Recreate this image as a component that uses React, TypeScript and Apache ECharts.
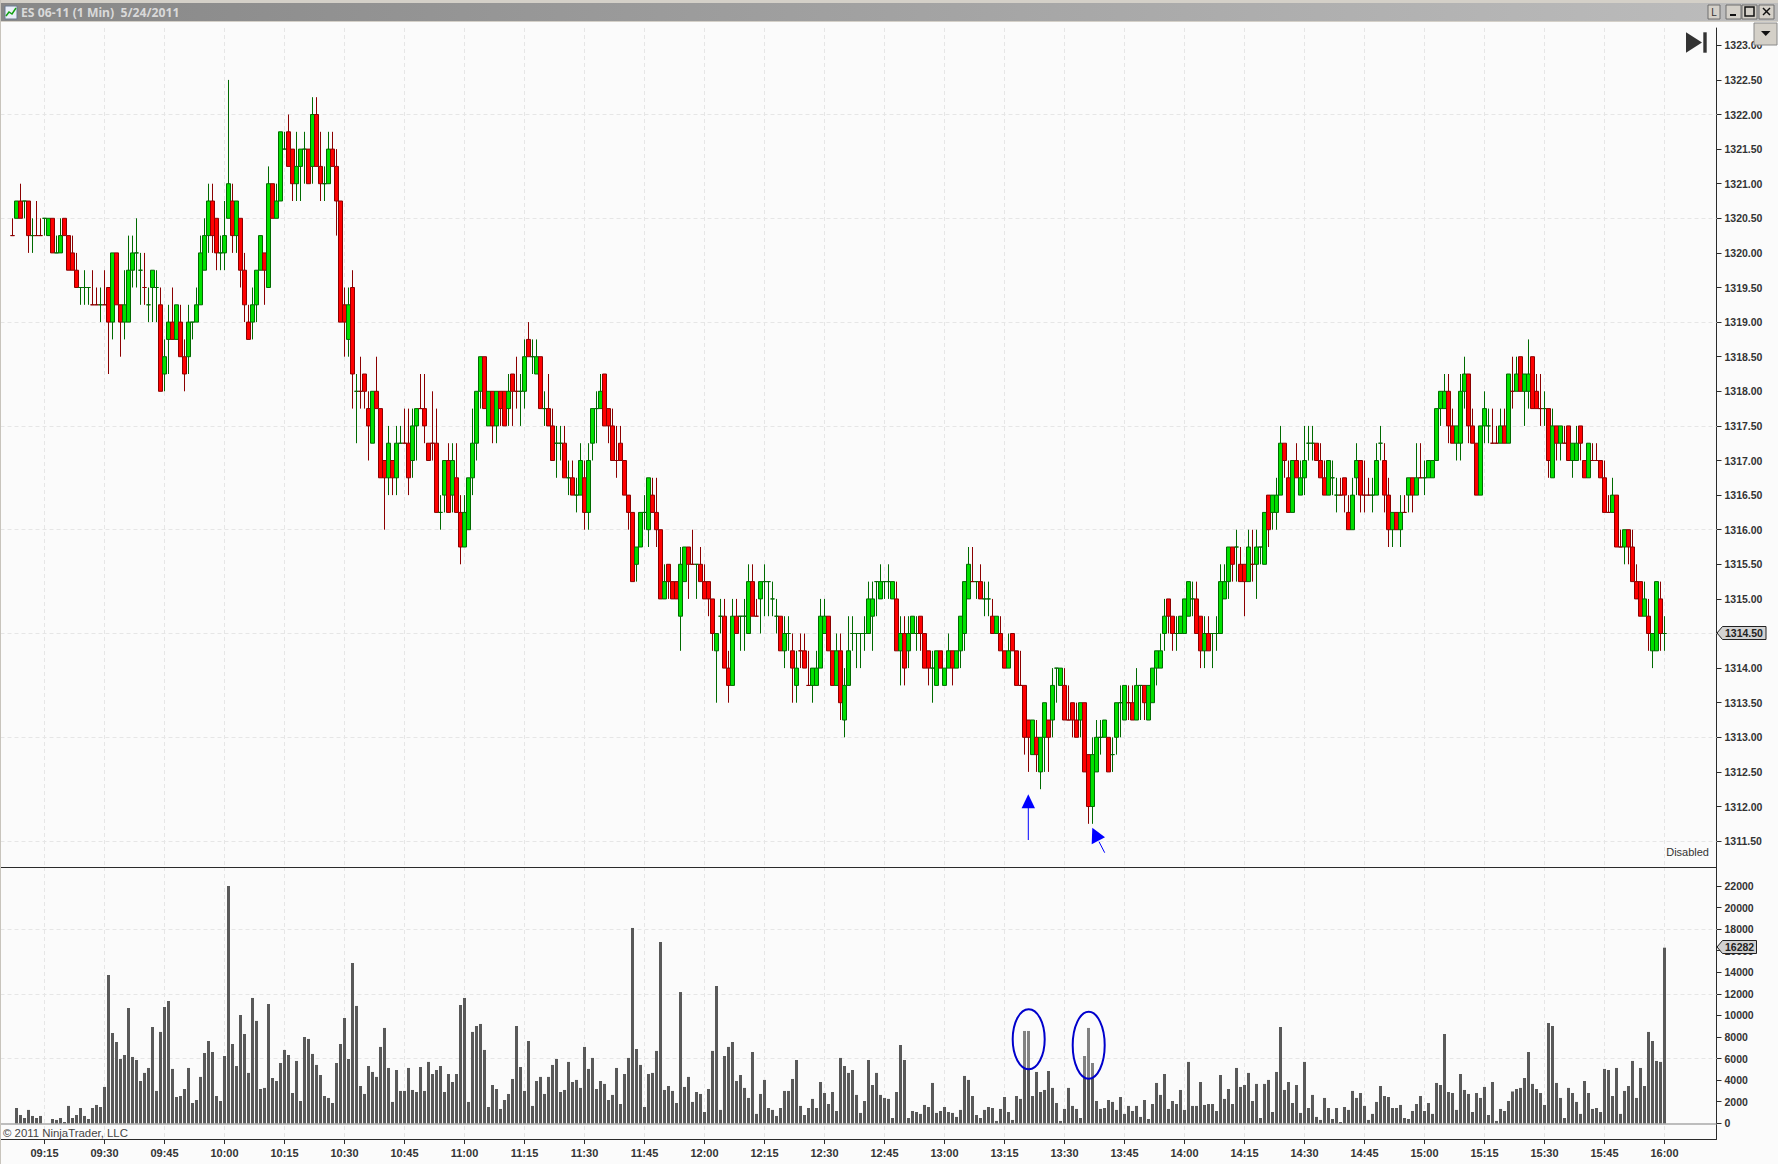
import React, { useEffect, useRef } from "react";
import * as echarts from "echarts";

const priceBase = 1300;
// [open, close, low, high] relative to priceBase, one row per minute starting 09:07
const candles = [
[20.25,20.25,20.25,20.5],[20.5,20.75,20.5,20.75],[20.75,20.5,20.5,21],[20.75,20.75,20.5,20.75],[20.75,20.25,20,20.75],
[20.25,20.25,20,20.5],[20.25,20.25,20.25,20.75],[20.25,20.25,20.25,20.5],[20.5,20.5,20.25,20.5],[20.25,20.5,20.25,20.5],
[20.5,20,20,20.5],[20,20,20,20.25],[20,20.25,20,20.5],[20.5,20.25,20.25,20.5],[20.25,19.75,19.75,20.25],
[20,19.75,19.75,20.25],[19.75,19.5,19.5,20],[19.5,19.5,19.25,19.5],[19.5,19.5,19.25,19.75],[19.5,19.5,19.25,19.5],
[19.25,19.25,19.25,19.75],[19.25,19.25,19.25,19.5],[19.25,19.25,19,19.5],[19.25,19.25,19.25,19.75],[19.5,19,18.25,19.5],
[19,20,18.75,20],[20,19.25,19.25,20],[19.25,19,18.5,19.25],[19,19.25,18.75,19.75],[19,19.75,19,20.25],
[19.75,20,19.5,20.25],[20,20,19.5,20.5],[19.75,19.75,19.25,20],[19.5,19.5,19.25,20],[19.25,19.25,19,19.5],
[19.5,19.75,19,19.75],[19.5,19.5,19,19.75],[19.25,18,18,19.5],[18.25,18.5,18,18.75],[18.75,19,18.25,19.25],
[19,18.75,18.75,19.5],[18.75,19.25,18.75,19.25],[19,18.5,18.5,19.25],[18.5,18.25,18,18.75],[18.5,19,18.25,19.25],
[19,19,18.75,19],[19,19.25,19,19.5],[19.25,20,19.25,20.25],[19.75,20.25,19.75,20.5],[20.25,20.75,20,21],
[20.75,20.25,20,21],[20.5,20,19.75,20.5],[20,20,19.75,20.25],[20,20.25,19.75,20.75],[20.5,21,20.5,22.5],
[20.75,20.25,20,21],[20.25,20.75,20,20.75],[20.5,19.75,19.5,20.5],[19.75,19.25,19,20],[19,18.75,18.75,19.25],
[19,19.25,18.75,19.5],[19.25,19.75,19,19.75],[19.75,20.25,19.75,20.25],[20,19.75,19.25,20],[19.5,21,19.5,21.25],
[21,20.5,20.5,21],[20.5,20.75,20.5,21],[20.75,21.75,20.75,21.75],[21.5,21.5,21.5,21.75],[21.75,21.25,21.25,22],
[21.5,21,20.75,21.5],[21,21.25,20.75,21.75],[21.25,21.5,20.75,21.5],[21.5,21.5,21,21.75],[21.5,21,21,21.5],
[21.25,22,21,22.25],[22,21.25,21.25,22.25],[21.25,21,20.75,21.75],[21,21,20.75,21.25],[21,21.5,21,21.75],
[21.5,21.25,21.25,21.75],[21.25,20.75,20.25,21.5],[20.75,19,19,20.75],[19.25,19,18.5,19.5],[18.75,19.25,18.5,19.5],
[19.5,18.25,17.75,19.75],[18,18,17.25,18.25],[18,18,17.75,18.5],[18.25,18,17.75,18.25],[17.75,17.5,17,18],
[17.25,18,17.25,18],[18,17.75,17.75,18.5],[17.75,16.75,16.75,17.75],[17,16.75,16,17],[16.75,17.25,16.5,17.5],
[17,16.75,16.5,17],[16.75,17.25,16.5,17.5],[17.25,17.25,17.25,17.5],[17.25,17.25,17.25,17.75],[17.25,16.75,16.5,17.75],
[17,17.5,16.75,17.75],[17.5,17.75,17,17.75],[17.75,17.75,17.75,18.25],[17.75,17.5,17.25,18.25],[17.25,17,17,17.25],
[17.25,17.25,17,18],[17.25,16.25,16.25,17.75],[16.25,16.25,16,16.5],[16.5,17,16.25,17],[17,16.25,16.25,17.25],
[16.5,17,16.25,17.25],[16.75,16.25,16.25,17.25],[16.25,15.75,15.5,16.5],[15.75,16.25,15.75,16.5],[16,16.75,16,16.75],
[16.75,17.25,16.5,17.75],[17.25,18,17,18],[18,18.5,17.75,18.5],[18.5,17.75,17.75,18.5],[17.5,18,17.5,18],
[18,17.5,17.25,18],[17.5,18,17.25,18],[18,17.75,17.5,18],[18,17.5,17.5,18],[17.75,18,17.5,18.25],
[18.25,18,17.5,18.25],[18,18,17.75,18.5],[18,18,17.5,18.25],[18,18.5,17.75,18.75],[18.75,18.5,18.5,19],
[18.5,18.5,18.25,18.75],[18.25,18.5,18.25,18.75],[18.5,17.75,17.75,18.5],[17.75,17.75,17.5,18],[17.75,17.5,17.5,18.25],
[17.5,17,17,17.75],[17.25,17.25,16.75,17.5],[17.25,17.25,17,17.5],[17.25,16.75,16.75,17.5],[16.75,16.75,16.5,17],
[16.75,16.5,16.5,17],[16.5,16.5,16.25,16.75],[16.5,17,16.5,17.25],[16.75,16.25,16,17],[16.25,17,16,17.25],
[17.25,17.75,17,17.75],[17.75,17.75,17.25,18],[17.75,18,17.75,18.25],[18.25,17.5,17.5,18.25],[17.75,17.5,17.25,17.75],
[17.5,17,17,17.75],[17,17,16.75,17.5],[17.25,17,17,17.5],[17,16.5,16.5,17],[16.5,16.25,16,16.5],
[16.25,15.25,15.25,16.25],[15.5,15.75,15.25,15.75],[15.75,16.25,15.75,16.25],[16.25,16.25,16,16.5],[16,16.75,15.75,16.75],
[16.5,16.25,16.25,16.75],[16.25,16,15.75,16.75],[16,15,15,16],[15,15.25,15,15.5],[15.5,15.25,15,15.5],
[15.25,15,15,15.25],[15.25,15,15,15.25],[14.75,15.5,14.25,15.75],[15.25,15.75,15.25,15.75],[15.75,15.5,15,15.75],
[15.5,15.5,15.5,16],[15.5,15.5,15,15.5],[15.5,15.25,15.25,15.75],[15.25,15,15,15.5],[15.25,15,14.75,15.25],
[15,14.5,14.25,15],[14.25,14.5,13.5,14.5],[14.75,14.75,14.5,15],[14.75,14,14,15],[14,13.75,13.5,14.25],
[13.75,14.75,13.75,15],[14.75,14.5,14.5,15],[14.75,14.75,14.25,14.75],[14.75,14.75,14.25,15],[14.5,15.25,14.5,15.5],
[15.25,14.75,14.75,15.5],[14.75,14.75,14.75,15],[15,15.25,14.5,15.25],[15.25,15.25,14.75,15.5],[15.25,15.25,14.75,15.25],
[15,15,14.75,15.25],[14.75,14.75,14.5,15],[14.75,14.25,14.25,14.75],[14.25,14.5,14,14.75],[14.5,14.5,14.25,14.75],
[14.25,14,13.5,14.5],[13.75,14,13.5,14.25],[14.25,14.25,14,14.5],[14.25,14,14,14.5],[13.75,13.75,13.75,14.25],
[13.75,14,13.5,14],[13.75,14,13.75,14.25],[14,14.75,14,15],[14.5,14.75,14.5,15],[14.75,14.25,14.25,14.75],
[14.25,13.75,13.75,14.25],[13.75,14.25,13.75,14.5],[14.25,13.5,13.25,14.5],[13.25,13.75,13,14],[13.75,14.25,13.75,14.75],
[14.5,14.5,14.25,14.75],[14.5,14.5,14,14.5],[14.5,14.5,14,14.5],[14.5,14.5,14.25,14.75],[14.5,15,14.5,15.25],
[14.75,15,14.25,15.25],[15.25,15.25,14.75,15.25],[15,15.25,15,15.5],[15.25,15.25,15,15.25],[15.25,15.25,15,15.5],
[15,15.25,15,15.25],[15,14.25,14.25,15.25],[14.25,14.5,13.75,14.75],[14.5,14,13.75,14.75],[14.25,14.5,14,14.75],
[14.5,14.75,14.5,14.75],[14.5,14.5,14.25,14.75],[14.75,14.5,14.25,14.75],[14.5,14,14,14.5],[14.25,14,13.75,14.25],
[14,14,13.5,14.25],[13.75,14.25,13.75,14.25],[14.25,14,14,14.25],[13.75,14,13.75,14],[14,14.25,14,14.5],
[14.25,14,13.75,14.25],[14,14.25,14,14.25],[14.25,14.75,14,14.75],[14.5,15.25,14.25,15.25],[15,15.5,15,15.75],
[15.25,15.25,15.25,15.75],[15.25,15.25,15,15.25],[15.25,15,15,15.5],[15,15,14.75,15.25],[15,15,14.75,15.25],
[14.75,14.5,14.5,15],[14.5,14.75,14.5,14.75],[14.5,14.25,14.25,14.75],[14.25,14,14,14.25],[14,14.25,14,14.5],
[14.5,14.25,14.25,14.5],[14.25,13.75,13.75,14.25],[13.75,13.75,13.75,14.25],[13.75,13,12.75,13.75],[13.25,13,12.5,13.25],
[12.75,13.25,12.75,13.25],[13,12.75,12.5,13.25],[12.5,13,12.25,13],[13,13.5,12.5,13.5],[13.25,13,12.5,13.25],
[13.25,13.75,13,14],[14,14,13.5,14],[13.75,14,13.75,14],[13.75,13.25,13.25,14],[13.25,13.25,13.25,13.75],
[13.5,13.25,13,13.5],[13.25,13,13,13.5],[13.25,13.5,13,13.5],[13.5,12.5,12.5,13.5],[12.75,12,11.75,12.75],
[12,12.75,11.75,13],[12.5,13,12.5,13.25],[13,13,12.75,13.25],[13,13.25,13,13.25],[13,12.5,12.5,13],
[12.75,12.75,12.5,13],[13,13.5,12.75,13.5],[13.5,13.5,13,13.75],[13.25,13.75,13.25,13.75],[13.5,13.5,13.25,13.75],
[13.5,13.25,13.25,13.75],[13.25,13.75,13.25,14],[13.75,13.75,13.25,13.75],[13.75,13.5,13.25,13.75],[13.25,13.75,13.25,13.75],
[13.5,14,13.5,14],[14,14.25,13.75,14.25],[14,14.25,14,14.5],[14.5,14.75,14.25,15],[15,14.75,14.5,15],
[14.75,14.5,14.25,14.75],[14.5,14.5,14.25,14.75],[14.5,14.75,14.5,14.75],[14.5,15,14.5,15],[14.75,15.25,14.75,15.25],
[15,15,14.75,15.25],[15,14.5,14.5,15.25],[14.75,14.25,14,14.75],[14.25,14.5,14,14.75],[14.5,14.25,14.25,14.75],
[14.5,14.5,14,14.5],[14.5,14.5,14.25,14.75],[14.5,15.25,14.5,15.5],[15,15.25,15,15.5],[15.25,15.75,15,15.75],
[15.75,15.5,15.25,15.75],[15.75,15.75,15.25,16],[15.5,15.25,15.25,15.75],[15.5,15.25,14.75,15.5],[15.25,15.75,15.25,16],
[15.5,15.5,15.25,16],[15.5,15.75,15,16],[15.75,15.75,15.5,15.75],[15.5,16.25,15.5,16.25],[16.5,16,15.75,16.5],
[16.25,16.5,16,16.5],[16.25,16.5,16,16.75],[16.5,17.25,16.5,17.5],[17.25,17,16.75,17.25],[16.75,16.25,16.25,17],
[16.25,17,16.25,17],[17,16.75,16.75,17.25],[16.5,16.75,16.5,17],[16.75,17,16.5,17.5],[17.25,17.25,17,17.5],
[17.25,17.25,17,17.5],[17.25,17,17,17.25],[17,16.75,16.75,17.25],[16.75,16.5,16.5,17],[16.5,17,16.5,17],
[16.75,16.75,16.5,17],[16.5,16.5,16.25,16.75],[16.5,16.5,16.5,16.75],[16.75,16.5,16.25,16.75],[16.25,16,16,16.5],
[16,16.5,16,16.75],[16.75,17,16.5,17.25],[17,16.5,16.25,17],[16.5,16.5,16.25,17],[16.5,16.5,16.5,16.75],
[16.5,16.5,16.25,16.75],[16.5,17,16.5,17.25],[17.25,17.25,17,17.5],[17,16.5,16.25,17.25],[16.5,16,15.75,16.75],
[16,16.25,15.75,16.25],[16.25,16,16,16.25],[16,16.25,15.75,16.5],[16.25,16.25,16.25,16.5],[16.5,16.75,16.25,16.75],
[16.75,16.5,16.25,16.75],[16.5,16.75,16.5,17.25],[16.75,16.75,16.75,17.25],[16.75,16.75,16.5,17],[16.75,17,16.75,17],
[16.75,17,16.75,17],[17,17.75,17,17.75],[17.75,18,17.5,18],[17.75,18,17.75,18.25],[18,17.5,17.25,18.25],
[17.5,17.25,17.25,17.75],[17.25,17.5,17,17.5],[17.25,18,17,18.25],[18,18.25,17.75,18.5],[18.25,17.5,17.25,18.25],
[17.5,17.25,17.25,17.75],[17.25,16.5,16.5,17.25],[16.5,17.5,16.5,17.5],[17.5,17.75,17.25,18],[17.5,17.5,17.25,17.75],
[17.25,17.25,17.25,17.75],[17.25,17.25,17.25,17.5],[17.25,17.5,17.25,17.75],[17.5,17.25,17.25,17.75],[17.25,18.25,17.25,18.25],
[18,18,17.75,18.5],[18,18.25,18,18.5],[18.5,18,18,18.5],[18,18.25,17.5,18.25],[18,18.25,17.75,18.75],
[18.5,17.75,17.75,18.5],[18,17.75,17.75,18.25],[17.75,17.75,17.5,18.25],[17.75,17.75,17.5,18],[17.75,17,16.75,17.75],
[16.75,17.5,16.75,17.75],[17.5,17.25,17,17.5],[17.25,17.5,17,17.5],[17.25,17.25,17.25,17.5],[17.5,17,17,17.5],
[17,17.25,16.75,17.25],[17,17.25,17,17.5],[17.5,17.25,17,17.5],[17,16.75,16.75,17],[16.75,17.25,16.75,17.25],
[17,17,17,17.25],[17,17,17,17.25],[17,16.75,16.75,17],[16.75,16.25,16.25,17],[16.25,16.25,16.25,16.5],
[16.25,16.5,16.25,16.75],[16.5,15.75,15.75,16.5],[15.75,15.75,15.75,16],[15.75,16,15.5,16],[16,15.75,15.5,16],
[15.75,15.25,15.25,16],[15.25,15,15,15.5],[15.25,14.75,14.75,15.25],[14.75,15,14.75,15.25],[14.75,14.5,14.25,15],
[14.25,14.5,14,14.5],[14.25,15.25,14.25,15.25],[15,14.5,14.25,15.25],[14.5,14.5,14.25,14.75]
];
const redDoji = [0,6,7,20,21,23,33,87,98,102,105,126,151,170,186,197,199,240,252,264,279,310,332,338,339,348,352,370,371,375,382,388,395,396,399,402];
const volumes = [
0,1420,770,490,1240,680,490,680,0,0,400,310,490,120,1610,490,770,1420,680,400,
1420,1700,1510,3370,13750,8370,7540,5960,6330,10690,6150,5870,3920,4670,5130,8930,3000,8470,10780,11340,
5040,2440,2530,3180,5130,1880,2160,4300,6520,7630,6610,2530,2070,6240,22000,7350,5310,10040,8280,4670,
11620,9490,3180,3280,11060,4200,3920,5590,6800,6330,2810,5780,2070,8000,7820,6430,5410,4480,2530,2350,
1880,5590,7350,9760,5960,14860,10880,3460,2720,5310,4760,4300,7080,8840,5130,1980,4940,3000,3000,5130,
3090,2900,5220,3000,5690,4570,4940,5310,2900,4570,3830,4570,10970,11620,1980,8470,9020,9210,6800,1510,
3550,3180,1330,2160,2720,4110,9020,5220,3000,7630,1610,3920,4300,2720,4300,5410,5960,2900,3090,5690,
3830,4020,3280,7080,5040,6060,3180,3920,3650,2160,2630,5130,1790,4570,6060,18110,6890,5410,1510,4570,
4670,6710,16810,3090,3460,3000,1880,12170,3370,4300,1980,2900,2720,1050,3180,6710,12730,1240,6240,7080,
7540,3920,4480,3280,2350,6610,870,2720,4020,1420,1240,680,1420,3000,3000,4110,5870,1610,770,1420,
2260,1420,3830,2810,1790,2900,1140,6060,5310,4670,4940,2630,960,2070,5870,3550,4670,2630,2350,2260,
490,2900,7260,5870,490,1140,1050,870,1700,1510,3740,960,1140,1510,1050,960,590,1240,4390,4020,
2530,770,490,1240,1510,1420,220,1330,2440,1050,310,2530,2260,8560,8560,2530,4760,2900,3090,4850,
3280,1880,220,1330,3280,1610,1330,490,6240,8840,5590,2070,1330,1420,2160,1980,1240,2440,870,1610,
1140,1610,590,2160,400,1790,3740,2630,4570,1330,2070,1790,3090,1240,5690,1610,1610,3830,1700,1790,
1790,1140,4480,2260,3180,1790,5130,3370,3550,4670,2070,3650,490,3650,4020,1050,4760,8930,3090,3830,
1880,3550,960,5690,1420,2630,590,310,2350,1420,400,1420,120,1510,1240,3000,2350,2810,1610,310,
870,1980,3460,2530,2440,1420,1420,1700,490,400,1140,1790,2530,1140,1880,870,3740,3550,8280,2900,
2810,1240,4570,3090,2720,1050,2810,2350,3370,770,3830,220,1330,1140,2070,2950,3180,3280,4200,6610,
3650,3180,2810,1700,9300,9020,3740,2350,490,3280,2810,1980,870,3920,2810,1330,1420,1050,5040,4940,
2530,5130,870,3000,3460,5780,2350,5130,3460,8470,7630,5780,5690,16282
];
const priceTicks = [1323,1322.5,1322,1321.5,1321,1320.5,1320,1319.5,1319,1318.5,1318,1317.5,1317,1316.5,1316,1315.5,1315,1314.5,1314,1313.5,1313,1312.5,1312,1311.5];
const priceGrid = [1322,1320.5,1319,1317.5,1316,1314.5,1313,1311.5];
const volumeTicks = [0,2000,4000,6000,8000,10000,12000,14000,16000,18000,20000,22000];
const volumeGrid = [6000,12000,18000];
const firstCategoryMinute = 9 * 60 + 4;
const categoryCount = 430;
const leadingEmpty = 3;
const titleText = "ES 06-11 (1 Min)  5/24/2011";
const copyrightText = "© 2011 NinjaTrader, LLC";
const disabledText = "Disabled";
const lastPrice = "1314.50";
const lastVolume = "16282";

const pad2 = (n: number) => String(n).padStart(2, "0");
const categories = Array.from({ length: categoryCount }, (_, i) => {
  const m = firstCategoryMinute + i;
  return pad2(Math.floor(m / 60)) + ":" + pad2(m % 60);
});
const isQuarter = (index: number) => (firstCategoryMinute + index) % 15 === 0;
const FONT = "'Liberation Sans', Arial, sans-serif";
const AXIS = "#2b2b2b";
const GRID = "#e6e6e6";
const UP = "#00e000";
const UP_B = "#006a00";
const DOWN = "#ff0000";
const DOWN_B = "#8b0000";

export default function App() {
  const ref = useRef<HTMLDivElement>(null);
  useEffect(() => {
    document.body.style.margin = "0";
    const chart = echarts.init(ref.current!, undefined, { renderer: "svg" });

    const empty = ["-", "-", "-", "-"];
    const candleData: any[] = categories.map((_, c) => {
      const i = c - leadingEmpty;
      if (i < 0 || i >= candles.length) return { value: empty };
      const r = candles[i];
      const value = [r[0] + priceBase, r[1] + priceBase, r[2] + priceBase, r[3] + priceBase];
      return {
        value,
        itemStyle: { borderColorDoji: redDoji.includes(i) ? DOWN_B : UP_B },
      };
    });
    const volumeData = categories.map((_, c) => {
      const i = c - leadingEmpty;
      return i < 0 || i >= volumes.length ? 0 : volumes[i];
    });

    const tag = (x2: number, cy: number, text: string) => ({
      type: "group",
      z: 60,
      children: [
        {
          type: "polygon",
          shape: { points: [[1717, cy], [1722.5, cy - 6.5], [x2, cy - 6.5], [x2, cy + 6.5], [1722.5, cy + 6.5]] },
          style: { fill: "#d2d2d2", stroke: "#222", lineWidth: 1 },
          z: 60,
        },
        {
          type: "text",
          x: 1725,
          y: cy,
          style: { text, fontFamily: FONT, fontSize: 10.5, fontWeight: "bold", fill: "#222", textVerticalAlign: "middle" },
          z: 61,
        },
      ],
    });
    const winButton = (x: number, w: number, children: any[] = []) => ({
      type: "group",
      z: 50,
      children: [
        { type: "rect", shape: { x, y: 5, width: w, height: 14 }, style: { fill: "#d4d0c8", stroke: "#6f6f6f", lineWidth: 1 }, z: 50 },
        ...children,
      ],
    });

    chart.setOption({
      animation: false,
      backgroundColor: "#fbfbfb",
      textStyle: { fontFamily: FONT },
      grid: [
        { left: 0.5, top: 28, width: 1716, height: 839 },
        { left: 0.5, top: 867, width: 1716, height: 272 },
      ],
      xAxis: [
        {
          type: "category",
          gridIndex: 0,
          data: categories,
          boundaryGap: false,
          axisLine: { show: true, onZero: false, lineStyle: { color: AXIS, width: 1 } },
          axisTick: { show: false },
          axisLabel: { show: false },
          splitLine: {
            show: true,
            interval: (i: number) => isQuarter(i),
            lineStyle: { color: GRID, type: [4, 3], width: 1 },
          },
        },
        {
          type: "category",
          gridIndex: 1,
          data: categories,
          boundaryGap: false,
          axisLine: { show: true, onZero: false, lineStyle: { color: AXIS, width: 1 } },
          axisTick: { show: true, alignWithLabel: true, length: 5, interval: (i: number) => isQuarter(i), lineStyle: { color: AXIS } },
          axisLabel: {
            show: true,
            interval: (i: number) => isQuarter(i),
            hideOverlap: false,
            fontFamily: FONT,
            fontSize: 11,
            fontWeight: "bold",
            color: "#333",
            margin: 8,
          },
          splitLine: {
            show: true,
            interval: (i: number) => isQuarter(i),
            lineStyle: { color: GRID, type: [4, 3], width: 1 },
          },
        },
      ],
      yAxis: [
        {
          type: "value",
          gridIndex: 0,
          position: "right",
          min: 1311.126,
          max: 1323.25,
          scale: true,
          axisLine: { show: true, onZero: false, lineStyle: { color: AXIS, width: 1 } },
          axisTick: { show: true, length: 5, customValues: priceTicks, lineStyle: { color: AXIS } },
          axisLabel: {
            show: true,
            customValues: priceTicks,
            formatter: (v: number) => v.toFixed(2),
            fontFamily: FONT,
            fontSize: 10.5,
            fontWeight: "bold",
            color: "#333",
            margin: 8,
            padding: [2, 0, 0, 0],
          },
          splitLine: { show: false },
        },
        {
          type: "value",
          gridIndex: 1,
          position: "right",
          min: -1456,
          max: 23762,
          axisLine: { show: true, onZero: false, lineStyle: { color: AXIS, width: 1 } },
          axisTick: { show: true, length: 5, customValues: volumeTicks, lineStyle: { color: AXIS } },
          axisLabel: {
            show: true,
            customValues: volumeTicks,
            formatter: (v: number) => String(v),
            fontFamily: FONT,
            fontSize: 10.5,
            fontWeight: "bold",
            color: "#333",
            margin: 8,
            padding: [2, 0, 0, 0],
          },
          splitLine: { show: false },
        },
      ],
      series: [
        {
          type: "candlestick",
          xAxisIndex: 0,
          yAxisIndex: 0,
          data: candleData,
          barWidth: 4,
          clip: false,
          itemStyle: {
            color: UP,
            color0: DOWN,
            borderColor: UP_B,
            borderColor0: DOWN_B,
            borderColorDoji: UP_B,
            borderWidth: 1,
          },
          markLine: {
            silent: true,
            symbol: "none",
            z: 1,
            label: { show: false },
            lineStyle: { color: GRID, type: [4, 3], width: 1 },
            data: priceGrid.map((yAxis) => ({ yAxis })),
          },
        },
        {
          type: "bar",
          xAxisIndex: 1,
          yAxisIndex: 1,
          data: volumeData,
          barWidth: 3,
          itemStyle: { color: "#595959" },
          markLine: {
            silent: true,
            symbol: "none",
            z: 1,
            label: { show: false },
            data: [
              ...volumeGrid.map((yAxis) => ({ yAxis, lineStyle: { color: GRID, type: [4, 3], width: 1 } })),
              { yAxis: 0, z: 5, lineStyle: { color: "#a8a8a8", type: "solid", width: 1.5 } },
            ],
          },
        },
      ],
      graphic: [
        { type: "rect", z: 40, shape: { x: 0, y: 0, width: 1778, height: 22 }, style: { fill: "#d4d0c8" } },
        {
          type: "rect",
          z: 41,
          shape: { x: 1, y: 3, width: 1777, height: 18 },
          style: {
            fill: new echarts.graphic.LinearGradient(0, 0, 1, 0, [
              { offset: 0, color: "#878787" },
              { offset: 1, color: "#bdbdbd" },
            ]),
          },
        },
        { type: "rect", z: 40, shape: { x: 0, y: 0, width: 1, height: 1164 }, style: { fill: "#c8c4bc" } },
        { type: "rect", z: 42, shape: { x: 5, y: 6, width: 12, height: 13 }, style: { fill: "#e8eef8", stroke: "#6a7a90", lineWidth: 1 } },
        { type: "polyline", z: 43, shape: { points: [[6, 16], [9, 12], [12, 14], [16, 8]] }, style: { stroke: "#12a012", fill: "none", lineWidth: 1.5 } },
        {
          type: "text",
          z: 43,
          x: 21,
          y: 12,
          style: {
            text: titleText,
            fontFamily: "'Noto Sans', sans-serif",
            fontSize: 12.2,
            fontWeight: "bold",
            fill: "#d9d9d9",
            textVerticalAlign: "middle",
          },
        },
        winButton(1708, 12, [
          { type: "text", z: 51, x: 1714, y: 12.5, style: { text: "L", fontFamily: FONT, fontSize: 10, fill: "#333", textAlign: "center", textVerticalAlign: "middle" } },
        ]),
        winButton(1726, 15, [{ type: "rect", z: 51, shape: { x: 1730, y: 14, width: 6, height: 2 }, style: { fill: "#111" } }]),
        winButton(1742, 15, [{ type: "rect", z: 51, shape: { x: 1745, y: 7, width: 9, height: 9 }, style: { fill: "none", stroke: "#111", lineWidth: 1.5 } }]),
        winButton(1759, 15, [
          { type: "line", z: 51, shape: { x1: 1763, y1: 8, x2: 1770, y2: 15 }, style: { stroke: "#111", lineWidth: 1.5 } },
          { type: "line", z: 51, shape: { x1: 1770, y1: 8, x2: 1763, y2: 15 }, style: { stroke: "#111", lineWidth: 1.5 } },
        ]),
        { type: "rect", z: 50, shape: { x: 1754, y: 23, width: 23, height: 22 }, style: { fill: "#d4d0c8", stroke: "#8a8a8a", lineWidth: 1 } },
        { type: "polygon", z: 51, shape: { points: [[1761, 31], [1770.5, 31], [1765.75, 36]] }, style: { fill: "#111" } },
        { type: "polygon", z: 50, shape: { points: [[1686, 32.3], [1702, 42.5], [1686, 52.7]] }, style: { fill: "#333" } },
        { type: "rect", z: 50, shape: { x: 1703.3, y: 32.3, width: 3.4, height: 20.4 }, style: { fill: "#333" } },
        {
          type: "text",
          z: 50,
          x: 1709,
          y: 851.5,
          style: { text: disabledText, fontFamily: FONT, fontSize: 11, fill: "#333", textAlign: "right", textVerticalAlign: "middle" },
        },
        {
          type: "text",
          z: 50,
          x: 3,
          y: 1133,
          style: { text: copyrightText, fontFamily: FONT, fontSize: 11.4, fill: "#444", textVerticalAlign: "middle" },
        },
        tag(1766, 633, lastPrice),
        tag(1756.5, 947, lastVolume),
        { type: "line", z: 30, shape: { x1: 1028.3, y1: 840, x2: 1028.3, y2: 806 }, style: { stroke: "#0000ff", lineWidth: 1 } },
        { type: "polygon", z: 30, shape: { points: [[1028.3, 794.3], [1035, 808.3], [1021.6, 808.3]] }, style: { fill: "#0000ff" } },
        { type: "line", z: 30, shape: { x1: 1104.7, y1: 852.7, x2: 1099, y2: 841.7 }, style: { stroke: "#0000ff", lineWidth: 1 } },
        { type: "polygon", z: 30, shape: { points: [[1092.3, 827.7], [1105, 837.3], [1091.7, 844.3]] }, style: { fill: "#0000ff" } },
        {
          type: "ellipse",
          z: 30,
          shape: { cx: 1028.7, cy: 1039.3, rx: 16, ry: 30 },
          style: { fill: "rgba(255,255,255,0.25)", stroke: "#0000cc", lineWidth: 2 },
        },
        {
          type: "ellipse",
          z: 30,
          shape: { cx: 1088.7, cy: 1045.3, rx: 16, ry: 33.5 },
          style: { fill: "rgba(255,255,255,0.25)", stroke: "#0000cc", lineWidth: 2 },
        },
      ],
    });
    return () => chart.dispose();
  }, []);
  return <div ref={ref} style={{ position: "absolute", left: 0, top: 0, width: 1778, height: 1164 }} />;
}
